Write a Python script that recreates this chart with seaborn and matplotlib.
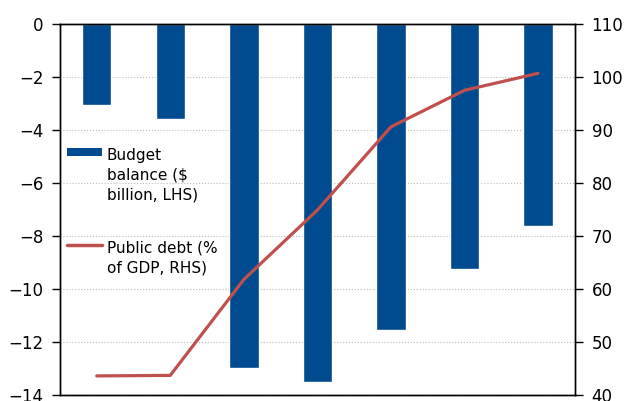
import numpy as np
import pandas as pd
import seaborn as sb
from matplotlib import pyplot as plt
from matplotlib.patches import Patch
from matplotlib.lines import Line2D

# values
periods = ['P1', 'P2', 'P3', 'P4', 'P5', 'P6', 'P7']
budget_balance = [-3.05, -3.6, -13.0, -13.5, -11.55, -9.25, -7.62]
public_debt = [43.6, 43.7, 61.8, 74.9, 90.6, 97.5, 100.7]

bar_label = 'Budget\nbalance ($\nbillion, LHS)'
line_label = 'Public debt (%\nof GDP, RHS)'
bar_color = '#004A8F'
line_color = '#C0504D'

df = pd.DataFrame({'period': periods, 'balance': budget_balance, 'debt': public_debt})

sb.set_style('white')
plt.rcParams['font.family'] = ['DejaVu Sans']
plt.rcParams['text.color'] = 'black'

fig = plt.figure(figsize=(6.31, 4.01), dpi=100)
ax = fig.add_axes([0.095, 0.015, 0.816, 0.925])

sb.barplot(data=df, x='period', y='balance', color=bar_color, saturation=1,
           width=0.4, ax=ax)
ax.set_ylim(-14, 0)
ax.set_yticks(np.arange(-14, 1, 2))
ax.set_xlim(-0.5, 6.5)
ax.set_xlabel('')
ax.set_ylabel('')
ax.set_xticks([])
ax.yaxis.grid(True, linestyle=':', color='#BBBBBB', linewidth=0.8)
ax.set_axisbelow(True)
ax.tick_params(axis='y', direction='out', length=6, width=1, labelsize=12,
               pad=6, colors='black', left=True)

ax2 = ax.twinx()
sb.lineplot(x=np.arange(len(periods)), y=public_debt, color=line_color,
            linewidth=2.3, ax=ax2, legend=False)
ax2.set_ylim(40, 110)
ax2.set_yticks(np.arange(40, 111, 10))
ax2.tick_params(axis='y', direction='out', length=6, width=1, labelsize=12,
                pad=6, colors='black', right=True)
ax2.set_xlim(-0.5, 6.5)

for a in (ax, ax2):
    for s in a.spines.values():
        s.set_color('black')
        s.set_linewidth(1)

handles = [Patch(facecolor=bar_color, edgecolor='none'),
           Line2D([], [], color=line_color, linewidth=2.5)]
leg = ax2.legend(handles, [bar_label, line_label], loc='upper left',
                 bbox_to_anchor=(0.0136, 0.667), borderaxespad=0, borderpad=0,
                 frameon=False, fontsize=11, handlelength=2.3,
                 handleheight=0.45, handletextpad=0.3, labelspacing=2.5)
for t in leg.get_texts():
    t.set_linespacing(1.4)
    t.set_color('black')
for col in leg._legend_handle_box.get_children():
    for item in col.get_children():
        item.align = 'top'

plt.savefig('out.png', dpi=100)
